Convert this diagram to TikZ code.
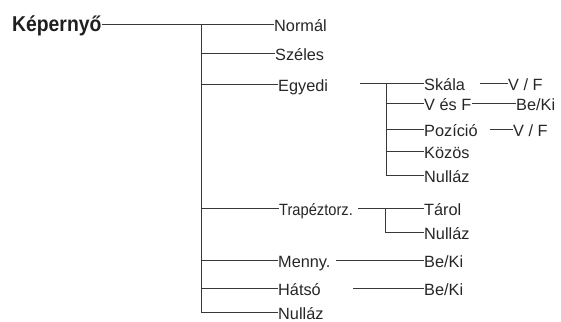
\documentclass[tikz,border=0pt]{standalone}
\usepackage{fontspec}
\setmainfont{Liberation Sans}
\begin{document}
\begin{tikzpicture}[x=1pt,y=-1pt,
  lbl/.style={anchor=west,inner sep=0pt,text=black!85,text height=15pt,text depth=0pt,font=\fontsize{16.3}{18}\selectfont},
  rootlbl/.style={anchor=west,inner sep=0pt,text=black!88,text height=16pt,text depth=0pt,font=\fontsize{21.5}{23}\selectfont\bfseries,xscale=0.9,transform shape},
  ln/.style={draw=black!78,line width=0.9pt}]
\useasboundingbox (0,0) rectangle (561,321);
% root
\node[rootlbl] (root) at (12,24) {Képernyő};
% level 1
\node[lbl] (normal) at (274,24) {Normál};
\node[lbl] (szeles) at (275,53) {Széles};
\node[lbl] (egyedi) at (278,84) {Egyedi};
\node[lbl,xscale=0.9,transform shape] (trap) at (279,208) {Trapéztorz.};
\node[lbl] (menny) at (278,260) {Menny.};
\node[lbl] (hatso) at (278,288) {Hátsó};
\node[lbl] (nullaz1) at (278,312) {Nulláz};
\coordinate (trunk) at (201,24);
% level 2 (Egyedi)
\node[lbl] (skala) at (424,83) {Skála};
\node[lbl] (vesf) at (424,103) {V és F};
\node[lbl] (pozicio) at (424,129) {Pozíció};
\node[lbl] (kozos) at (424,151) {Közös};
\node[lbl] (nullaz2) at (424,175) {Nulláz};
\coordinate (egyS) at (360,83);
\coordinate (egyT) at (386,83);
% level 3
\node[lbl] (vf1) at (508,83) {V / F};
\node[lbl] (beki1) at (516,103) {Be/Ki};
\node[lbl] (vf2) at (513,129) {V / F};
\coordinate (skS) at (480,83);
\coordinate (pzS) at (490,129);
% Trapeztorz
\node[lbl] (tarol) at (424,208) {Tárol};
\node[lbl] (nullaz3) at (424,232) {Nulláz};
\coordinate (trS) at (358,208);
\coordinate (trT) at (385,208);
% Menny, Hatso
\node[lbl] (beki2) at (424,260) {Be/Ki};
\node[lbl] (beki3) at (424,288) {Be/Ki};
\coordinate (mnS) at (336,260);
\coordinate (htS) at (353,288);
% connectors
\draw[ln] (root.east) -- (normal.west);
\draw[ln] (trunk) |- (nullaz1.west);
\foreach \n in {szeles,egyedi,trap,menny,hatso}
  \draw[ln] (trunk |- \n.west) -- (\n.west);
\draw[ln] (egyS) -- (skala.west);
\draw[ln] (egyT) |- (nullaz2.west);
\foreach \n in {vesf,pozicio,kozos}
  \draw[ln] (egyT |- \n.west) -- (\n.west);
\draw[ln] (skS) -- (vf1.west);
\draw[ln] (vesf.east) -- (beki1.west);
\draw[ln] (pzS) -- (vf2.west);
\draw[ln] (trS) -- (tarol.west);
\draw[ln] (trT) |- (nullaz3.west);
\draw[ln] (mnS) -- (beki2.west);
\draw[ln] (htS) -- (beki3.west);
\end{tikzpicture}
\end{document}
